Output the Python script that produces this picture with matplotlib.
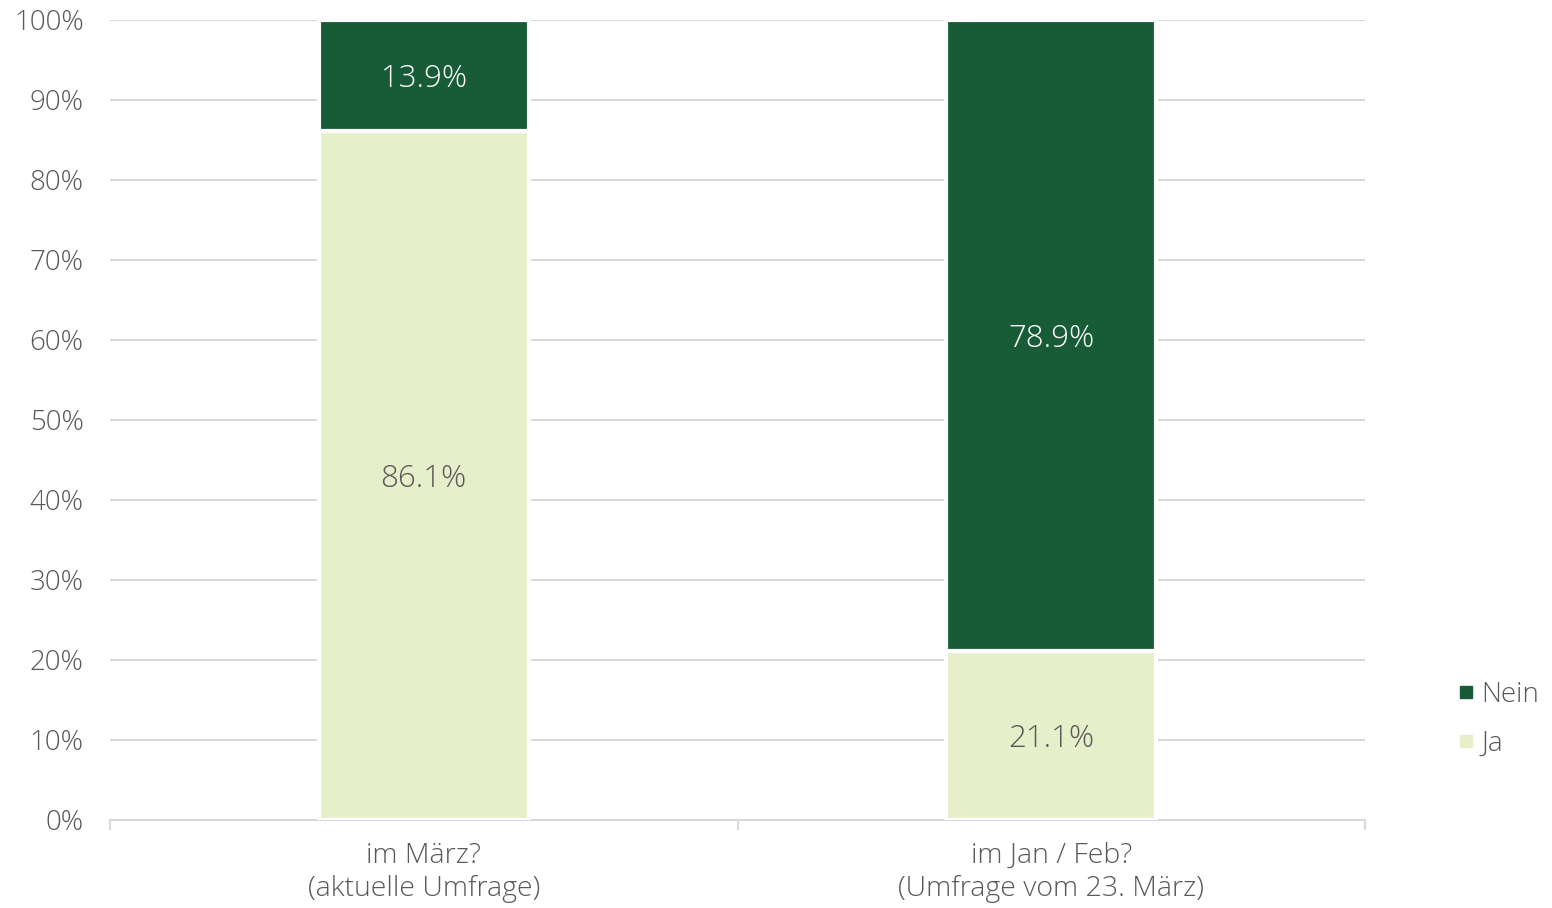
import numpy as np
import matplotlib.pyplot as plt
from matplotlib.lines import Line2D
from matplotlib.ticker import PercentFormatter

plt.rcParams['font.family'] = ['Open Sans', 'DejaVu Sans']
plt.rcParams['font.weight'] = 'light'

categories = ["im März?\n(aktuelle Umfrage)", "im Jan / Feb?\n(Umfrage vom 23. März)"]
ja = [86.1, 21.1]
nein = [13.9, 78.9]

c_ja = "#e6efc9"
c_nein = "#185c37"
grey = "#595959"

fig = plt.figure(figsize=(15.52, 9.08), dpi=100)
ax = fig.add_axes([110/1552, 1-820/908, (1365-110)/1552, 800/908])

x = np.arange(len(categories))
w = 0.335
ax.bar(x, ja, w, color=c_ja, edgecolor="white", linewidth=3, zorder=3)
ax.bar(x, nein, w, bottom=ja, color=c_nein, edgecolor="white", linewidth=3, zorder=3)

for i in range(len(categories)):
    ax.annotate(f"{ja[i]:.1f}%", (x[i], ja[i]/2), xytext=(0, -2.2), textcoords="offset points",
                ha="center", va="center", fontsize=22.5, color=grey, zorder=4)
    ax.annotate(f"{nein[i]:.1f}%", (x[i], ja[i] + nein[i]/2), xytext=(0, -2.2),
                textcoords="offset points", ha="center", va="center",
                fontsize=22.5, color="white", zorder=4)

ax.set_xlim(-0.5, 1.5)
ax.set_ylim(0, 100)
ax.set_yticks(np.arange(0, 101, 10))
ax.yaxis.set_major_formatter(PercentFormatter(decimals=0))
ax.yaxis.grid(True, color="#d9d9d9", linewidth=1.5, zorder=0)
ax.set_axisbelow(True)

ax.set_xticks([-0.5, 0.5, 1.5], minor=False)
ax.set_xticklabels([])
ax.set_xticks(x, minor=True)
ax.set_xticklabels(categories, minor=True, fontsize=20.5, color=grey, linespacing=1.22)
ax.tick_params(axis="x", which="major", length=7, width=1.5, color="#d9d9d9", direction="out")
ax.tick_params(axis="x", which="minor", length=0, pad=16)
ax.tick_params(axis="y", length=0, labelsize=20, labelcolor=grey, pad=19)

for s in ["top", "right", "left"]:
    ax.spines[s].set_visible(False)
ax.spines["bottom"].set_color("#d9d9d9")
ax.spines["bottom"].set_linewidth(1.5)

handles = [Line2D([], [], marker="s", ls="", color=c_nein, markersize=8.5),
           Line2D([], [], marker="s", ls="", color=c_ja, markersize=8.5)]
fig.legend(handles, ["Nein", "Ja"], loc="center left", bbox_to_anchor=(1433/1552, 1-719/908),
           frameon=False, fontsize=20, labelcolor=grey, handletextpad=0.05,
           labelspacing=0.75, handlelength=1.0, borderpad=0.2)

fig.savefig("out.png", dpi=100)
